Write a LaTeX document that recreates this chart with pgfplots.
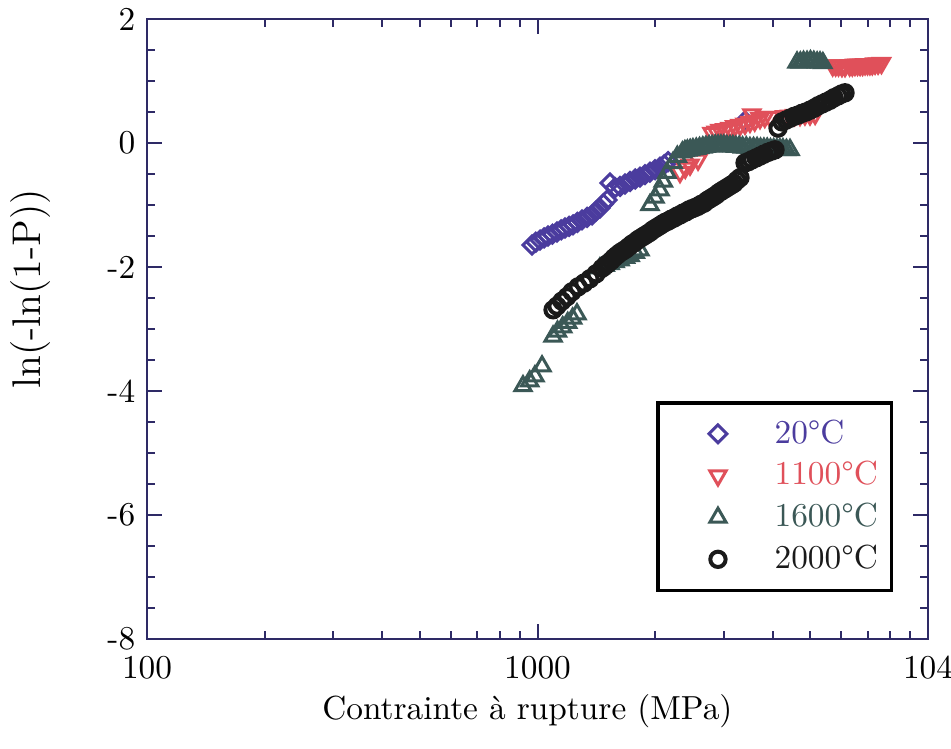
\documentclass[border=0pt]{standalone}
\usepackage{fontspec}
\usepackage{pgfplots}
\pgfplotsset{compat=1.18}
\definecolor{axc}{HTML}{2E2A66}
\definecolor{c20}{HTML}{4B3C9E}
\definecolor{c1100}{HTML}{E0505A}
\definecolor{c1600}{HTML}{3B5856}
\definecolor{c2000}{HTML}{1A1A1A}
\begin{document}
\begin{tikzpicture}
\begin{semilogxaxis}[
  scale only axis, width=234.3pt, height=186pt,
  xmin=100, xmax=10000, ymin=-8, ymax=2,
  xtick={100,1000,10000}, xticklabels={100,1000,104},
  ytick={-8,-6,-4,-2,0,2}, yticklabels={-8,-6,-4,-2,0,2},
  minor y tick num=3,
  tick align=inside,
  major tick length=4.5pt, minor tick length=2.5pt,
  axis line style={axc, line width=0.75pt},
  every tick/.style={axc, line width=0.6pt},
  xticklabel style={yshift=-1.5pt},
  xlabel={Contrainte à rupture (MPa)},
  ylabel={\fontsize{12}{14}\selectfont ln(-ln(1-P))},
  every axis x label/.style={at={(axis description cs:0.487,-0.116)}, anchor=center},
  every axis y label/.style={at={(axis description cs:-0.149,0.565)}, rotate=90, anchor=center},
  legend style={at={(rel axis cs:0.955,0.076)}, anchor=south east, draw=black, line width=1pt,
    inner xsep=2pt, inner ysep=3pt, row sep=0pt, cells={anchor=west}},
  legend image code/.code={\draw[#1] plot coordinates {(16pt,0pt)}; \path[draw=none,fill=none] (0pt,-3pt) rectangle (31pt,3pt);},
]
\addplot[only marks, mark=square, mark size=1.9pt, c20, line width=0.9pt, every mark/.append style={rotate=45}]
coordinates {
(968,-1.645)(990,-1.60)(1015,-1.565)(1040,-1.53)(1064,-1.50)(1092,-1.47)(1122,-1.435)(1150,-1.40)
(1176,-1.37)(1205,-1.345)(1233,-1.32)(1265,-1.28)(1300,-1.24)(1340,-1.20)(1379,-1.16)(1410,-1.10)
(1445,-1.05)(1475,-0.98)(1507,-0.92)(1534,-0.645)(1580,-0.72)(1627,-0.70)(1675,-0.66)(1726,-0.62)
(1780,-0.58)(1830,-0.55)(1885,-0.51)(1941,-0.47)(2000,-0.43)(2059,-0.39)(2110,-0.35)(2160,-0.30)
(3400,0.355)
};
\addlegendentry{\textcolor{c20}{20°C}}
\addplot[only marks, mark=triangle, mark size=2.8pt, c1100, line width=0.9pt, every mark/.append style={rotate=180}]
coordinates {
(2317,-0.47)(2390,-0.40)(2458,-0.35)(2577,-0.27)
(2798,0.16)(2870,0.18)(2933,0.21)(3020,0.22)(3112,0.24)(3200,0.27)(3301,0.29)(3400,0.31)(3501,0.34)
(3540,0.46)(3600,0.36)(3714,0.40)(3820,0.42)(3939,0.42)
(4300,0.43)(4432,0.44)(4560,0.45)(4701,0.45)(4840,0.46)(4986,0.46)(5140,0.47)
(5700,1.25)(5800,1.25)(5900,1.25)(6020,1.24)(6131,1.24)(6300,1.25)(6400,1.25)(6500,1.26)(6600,1.26)
(6700,1.26)(6800,1.26)(6900,1.27)(7000,1.27)(7100,1.27)(7200,1.27)(7320,1.28)(7450,1.28)(7600,1.29)
};
\addlegendentry{\textcolor{c1100}{1100°C}}
\addplot[only marks, mark=triangle, mark size=2.8pt, c1600, line width=0.9pt]
coordinates {
(918,-3.92)(955,-3.84)(985,-3.76)(1027,-3.60)
(1096,-3.12)(1125,-3.04)(1160,-2.97)(1195,-2.90)(1230,-2.83)(1262,-2.76)
(1445,-2.02)(1490,-1.98)(1534,-1.95)(1580,-1.92)(1627,-1.89)(1680,-1.85)(1726,-1.82)(1780,-1.77)(1830,-1.73)
(1941,-1.00)(2000,-0.88)(2059,-0.76)(2100,-0.62)(2146,-0.48)(2223,-0.32)(2280,-0.22)
(2350,-0.15)(2385,-0.13)(2420,-0.12)(2460,-0.11)(2500,-0.10)(2550,-0.09)(2600,-0.08)(2650,-0.07)
(2700,-0.06)(2750,-0.05)(2800,-0.05)(2850,-0.04)(2900,-0.04)(2950,-0.04)(3000,-0.04)(3055,-0.05)
(3112,-0.05)(3165,-0.05)(3220,-0.06)(3285,-0.06)(3350,-0.07)(3425,-0.07)(3500,-0.08)(3575,-0.08)
(3650,-0.08)(3725,-0.09)(3800,-0.09)(3875,-0.09)(3950,-0.10)(4025,-0.10)(4100,-0.10)(4175,-0.10)
(4250,-0.10)(4340,-0.11)(4432,-0.11)
(4620,1.30)(4710,1.30)(4800,1.31)(4900,1.31)(5000,1.32)(5100,1.31)(5200,1.30)(5290,1.30)(5380,1.29)
};
\addlegendentry{\textcolor{c1600}{1600°C}}
\addplot[only marks, mark=o, mark size=2.3pt, c2000, line width=1.2pt]
coordinates {
(1096,-2.69)(1122,-2.63)(1155,-2.55)(1190,-2.48)(1225,-2.40)(1270,-2.32)(1315,-2.26)(1362,-2.19)
(1412,-2.11)(1463,-2.02)(1490,-1.98)(1516,-1.94)(1543,-1.90)(1570,-1.85)(1598,-1.81)(1627,-1.77)
(1656,-1.74)(1685,-1.71)(1715,-1.67)(1746,-1.63)(1777,-1.60)(1809,-1.56)(1841,-1.53)(1874,-1.50)
(1907,-1.47)(1941,-1.44)(1976,-1.40)(2012,-1.37)(2048,-1.34)(2084,-1.31)(2121,-1.28)(2159,-1.26)
(2198,-1.23)(2237,-1.21)(2277,-1.18)(2317,-1.16)(2359,-1.13)(2401,-1.11)(2444,-1.08)(2487,-1.06)
(2532,-1.04)(2577,-1.02)(2623,-0.99)(2669,-0.97)(2717,-0.93)(2765,-0.90)(2815,-0.87)(2865,-0.84)
(2916,-0.80)(2968,-0.77)(3021,-0.74)(3075,-0.71)(3130,-0.68)(3186,-0.65)(3243,-0.60)(3301,-0.56)
(3400,-0.32)(3470,-0.30)(3543,-0.27)(3630,-0.24)(3714,-0.21)(3800,-0.18)(3892,-0.15)(3975,-0.13)(4057,-0.11)
(4130,0.24)(4228,0.34)(4330,0.37)(4432,0.40)(4540,0.43)(4647,0.45)(4760,0.48)(4870,0.50)(4990,0.53)
(5106,0.56)(5230,0.60)(5353,0.63)(5480,0.66)(5610,0.69)(5745,0.73)(5883,0.76)(6005,0.79)(6131,0.81)
};
\addlegendentry{\textcolor{c2000}{2000°C}}
\coordinate (bl) at (rel axis cs:0,0);
\coordinate (tr) at (rel axis cs:1,1);
\end{semilogxaxis}
\pgfresetboundingbox
\path ([shift={(-44.1pt,-32.7pt)}]bl) rectangle ([shift={(6.9pt,5.7pt)}]tr);
\end{tikzpicture}
\end{document}
